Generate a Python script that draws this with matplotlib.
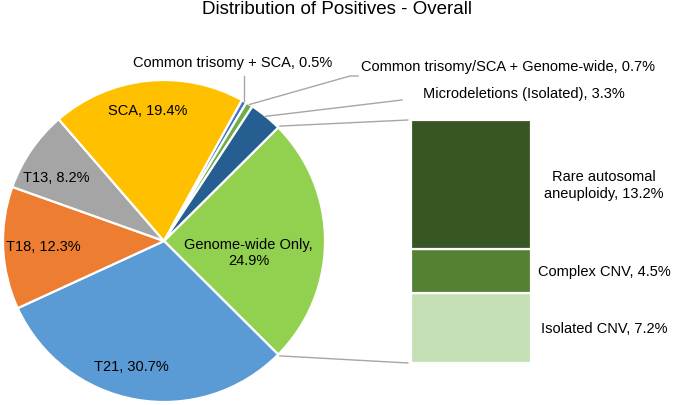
import math
import numpy as np
import matplotlib
matplotlib.use("Agg")
import matplotlib.pyplot as plt
from matplotlib.patches import ConnectionPatch

plt.rcParams['font.family'] = ['Liberation Sans', 'DejaVu Sans']

# pie data (clockwise from the split-off slice)
pie_labels = ["Genome-wide Only", "T21", "T18", "T13", "SCA",
              "Common trisomy + SCA", "Common trisomy/SCA + Genome-wide",
              "Microdeletions (Isolated)"]
pie_values = [24.9, 30.7, 12.3, 8.2, 19.4, 0.5, 0.7, 3.3]
pie_colors = ["#92D050", "#5B9BD5", "#ED7D31", "#A5A5A5", "#FFC000",
              "#4472C4", "#70AD47", "#255E91"]

# breakdown of "Genome-wide Only" (bottom to top)
bar_labels = ["Isolated CNV", "Complex CNV", "Rare autosomal\naneuploidy"]
bar_values = [7.2, 4.5, 13.2]
bar_colors = ["#C5E0B4", "#548235", "#375623"]

W, H = 674, 406
fig = plt.figure(figsize=(W / 100, H / 100), dpi=100)
ax = fig.add_axes([0, 0, 1, 1])

cx, cy, r = 164, H - 242, 161
start = 360 * pie_values[0] / sum(pie_values) / 2
wedges, _ = ax.pie(pie_values, colors=pie_colors, startangle=start,
                   counterclock=False, center=(cx, cy), radius=r,
                   wedgeprops=dict(edgecolor='white', linewidth=1.6))
ax.set_xlim(0, W)
ax.set_ylim(0, H)
ax.set_aspect('equal')
ax.axis('off')


def edge_point(angle, rr=r):
    a = math.radians(angle)
    return cx + rr * math.cos(a), cy + rr * math.sin(a)


fs = 10.5
# labels inside the slices: (radius fraction, angle shift)
inside = {0: (0.53, -7.4), 1: (0.80, -4.4), 2: (0.75, 0), 3: (0.78, 3.5), 4: (0.82, 1)}
for i, (frac, da) in inside.items():
    w = wedges[i]
    mid = (w.theta1 + w.theta2) / 2 + da
    x, y = edge_point(mid, r * frac)
    name = pie_labels[i]
    if i == 0:
        txt = "Genome-wide Only,\n%.1f%%" % pie_values[i]
    else:
        txt = "%s, %.1f%%" % (name, pie_values[i])
    ax.text(x, y, txt, ha='center', va='center', fontsize=fs,
            linespacing=1.25, color='black')

line_kw = dict(color='#A6A6A6', lw=1.0)

# outside labels with leader lines
w = wedges[5]
ax_, ay_ = edge_point((w.theta1 + w.theta2) / 2)
ax.plot([ax_, ax_], [ay_, H - 77], **line_kw)
ax.text(233, H - 63, "%s, %.1f%%" % (pie_labels[5], pie_values[5]),
        ha='center', va='center', fontsize=fs)

w = wedges[6]
ax_, ay_ = edge_point((w.theta1 + w.theta2) / 2)
ax.plot([ax_, 350, 358], [ay_, H - 77, H - 77], **line_kw)
ax.text(361, H - 67, "%s, %.1f%%" % (pie_labels[6], pie_values[6]),
        ha='left', va='center', fontsize=fs)

w = wedges[7]
ax_, ay_ = edge_point((w.theta1 + w.theta2) / 2)
ax.plot([ax_, 402], [ay_, H - 101], **line_kw)
ax.text(423, H - 94, "%s, %.1f%%" % (pie_labels[7], pie_values[7]),
        ha='left', va='center', fontsize=fs)

# stacked bar for the breakdown
bx = fig.add_axes([411 / W, 42 / H, 120 / W, 243 / H])
bottoms = np.concatenate([[0], np.cumsum(bar_values)[:-1]])
bx.bar(0, bar_values, bottom=bottoms, width=1, color=bar_colors,
       edgecolor='white', linewidth=1.6)
bx.set_xlim(-0.5, 0.5)
bx.set_ylim(0, sum(bar_values))
bx.axis('off')
for v, b, lab in zip(bar_values, bottoms, bar_labels):
    bx.text(1.11, b + v / 2, "%s, %.1f%%" % (lab, v), ha='center', va='center',
            fontsize=fs, linespacing=1.25, clip_on=False)

# connector lines from the split slice to the bar
g = wedges[0]
for ang, yb in [(max(g.theta1, g.theta2), sum(bar_values)), (min(g.theta1, g.theta2), 0)]:
    p = edge_point(ang, r + 2)
    con = ConnectionPatch(xyA=p, coordsA=ax.transData,
                          xyB=(-0.525, yb), coordsB=bx.transData, **line_kw)
    fig.add_artist(con)

fig.text(0.5, 1 - 9 / H, "Distribution of Positives - Overall",
         ha='center', va='center', fontsize=13.5)

fig.savefig("out.png", dpi=100)
